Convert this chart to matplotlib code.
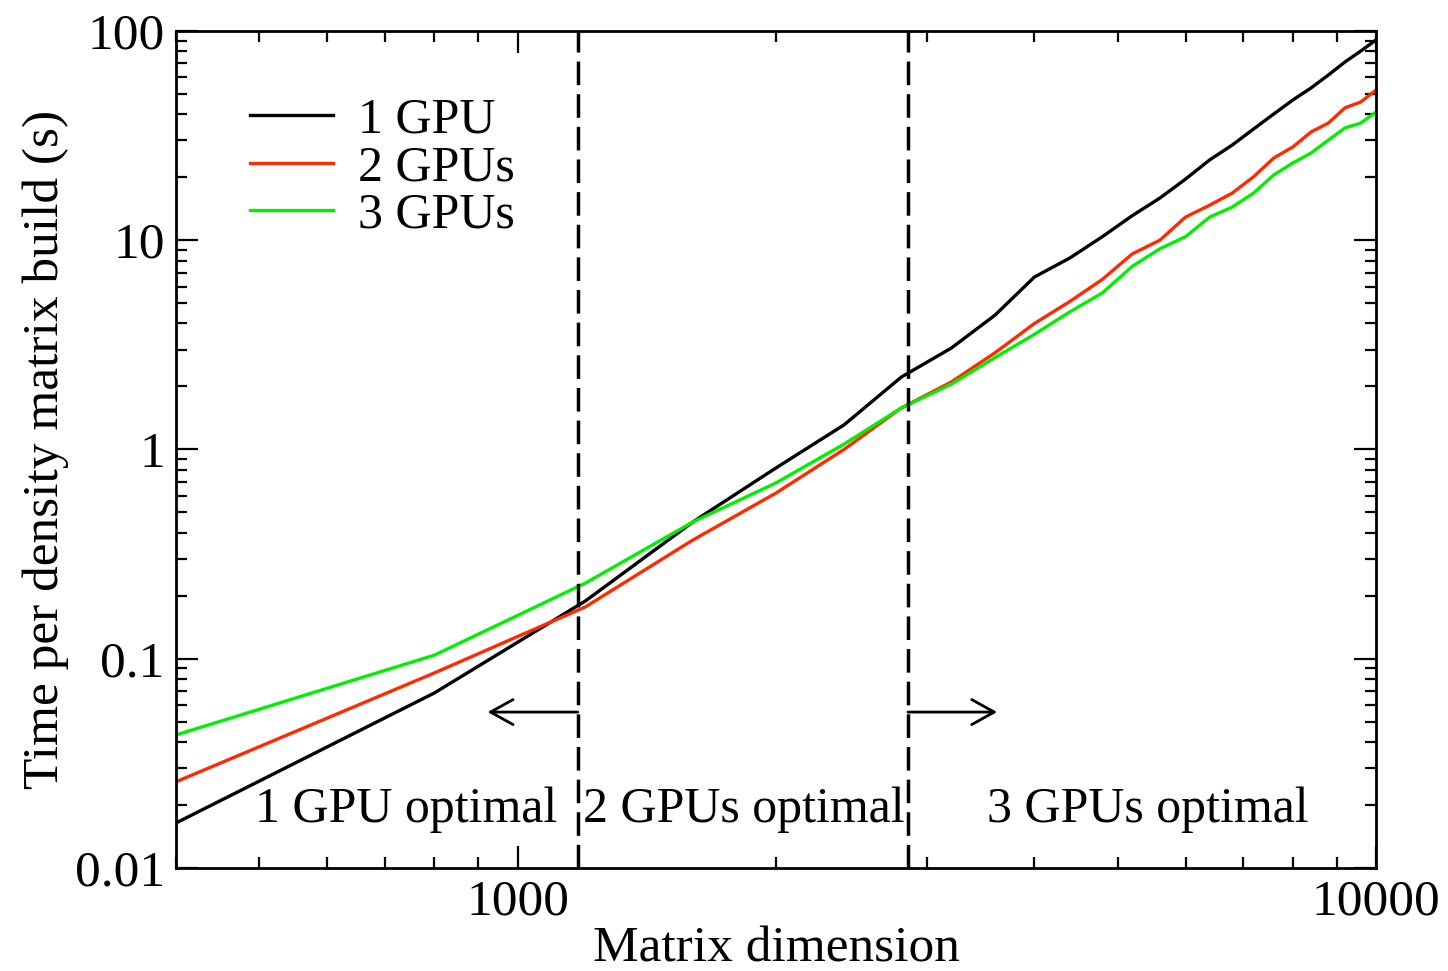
import numpy as np
import matplotlib
matplotlib.use('Agg')
import matplotlib.pyplot as plt
from matplotlib.ticker import NullFormatter, LogLocator

# 字体
plt.rcParams['font.family'] = ['Liberation Serif', 'DejaVu Serif']

# 数据（矩阵维度，每 400 一个点）
dims = [400, 800, 1200, 1600, 2000, 2400, 2800, 3200, 3600, 4000, 4400, 4800, 5200,
        5600, 6000, 6400, 6800, 7200, 7600, 8000, 8400, 8800, 9200, 9600, 10000]

gpu1 = [0.0164, 0.0686, 0.189, 0.450, 0.816, 1.31, 2.22, 3.05, 4.39, 6.67, 8.23, 10.4, 13.1,
        15.9, 19.6, 24.2, 28.5, 34.0, 40.1, 46.8, 53.4, 61.6, 71.1, 80.2, 90.6]
gpu2 = [0.0258, 0.0855, 0.177, 0.369, 0.619, 1.00, 1.58, 2.10, 2.90, 4.00, 5.10, 6.50, 8.60,
        10.0, 12.9, 14.7, 16.8, 20.1, 24.7, 27.9, 32.9, 36.3, 42.9, 45.8, 52.2]
gpu3 = [0.0432, 0.104, 0.230, 0.450, 0.692, 1.06, 1.58, 2.05, 2.75, 3.55, 4.55, 5.60, 7.50,
        9.10, 10.4, 12.9, 14.4, 16.8, 20.5, 23.4, 26.1, 30.1, 34.4, 36.3, 41.0]

labels = ['1 GPU', '2 GPUs', '3 GPUs']
colors = ['black', '#ff2a00', '#00f000']

# 分界线与区域标注
bounds = [1175, 2850]
region_text = ['1 GPU optimal', '2 GPUs optimal', '3 GPUs optimal']
region_x = [741, 1833, 5428]
region_y = 0.0166
arrow_y = 0.0556
arrow_tip = [923, 3619]

fig = plt.figure(figsize=(14.48, 9.71), dpi=100)
ax = fig.add_axes([0.1215, 0.1061, 0.8288, 0.862])

for ys, lab, c in zip([gpu1, gpu2, gpu3], labels, colors):
    ax.plot(dims, ys, color=c, lw=2.4, label=lab)

for b in bounds:
    ax.axvline(b, color='black', lw=2.5, dashes=(6.8, 2.6))

for tx, t in zip(region_x, region_text):
    ax.text(tx, region_y, t, fontsize=36, ha='center', va='baseline')

for b, tip in zip(bounds, arrow_tip):
    ax.annotate('', xy=(tip, arrow_y), xytext=(b, arrow_y),
                arrowprops=dict(arrowstyle='->,head_length=0.45,head_width=0.25',
                                lw=2.0, color='black', mutation_scale=36,
                                shrinkA=0, shrinkB=0))

ax.set_xscale('log')
ax.set_yscale('log')
ax.set_xlim(400, 10000)
ax.set_ylim(0.01, 100)

ax.set_xticks([1000, 10000], labels=['1000', '10000'])
ax.set_yticks([0.01, 0.1, 1, 10, 100], labels=['0.01', '0.1', '1', '10', '100'])
ax.xaxis.set_minor_locator(LogLocator(base=10, subs=np.arange(2, 10)))
ax.yaxis.set_minor_locator(LogLocator(base=10, subs=np.arange(2, 10)))
ax.xaxis.set_minor_formatter(NullFormatter())
ax.yaxis.set_minor_formatter(NullFormatter())

ax.tick_params(which='both', direction='in', top=True, right=True, width=1.6,
               labelsize=37)
ax.tick_params(which='major', length=16, pad=8)
ax.tick_params(which='minor', length=8)
for s in ax.spines.values():
    s.set_linewidth(2.0)

ax.set_xlabel('Matrix dimension', fontsize=37, labelpad=0)
ax.set_ylabel('Time per density matrix build (s)', fontsize=37, labelpad=4)

ax.legend(loc='upper left', bbox_to_anchor=(0.045, 0.945), frameon=False, fontsize=36,
          handlelength=1.66, handletextpad=0.5, labelspacing=0.02, borderaxespad=0)

plt.savefig('out.png', dpi=100)
